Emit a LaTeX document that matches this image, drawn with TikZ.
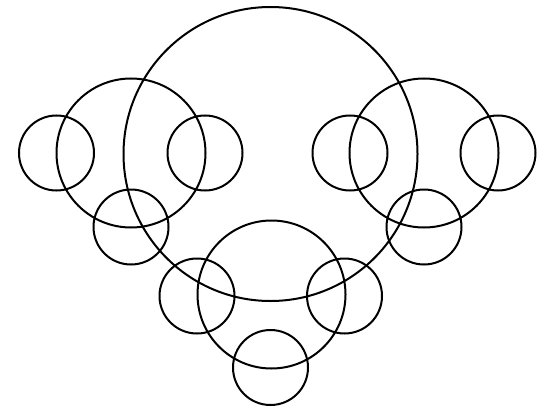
\documentclass[tikz,border=0pt]{standalone}
\begin{document}
\begin{tikzpicture}[x=1pt,y=-1pt,
  ring/.style={draw=black,line width=2pt,circle,inner sep=0pt,outer sep=0pt,minimum size=#1}]
\useasboundingbox (0,0) rectangle (545,409);
% big
\node[ring=294pt] (big) at (270.5,154) {};
% medium
\node[ring=149pt] (ml) at (131,153) {};
\node[ring=149pt] (mr) at (424,153) {};
\node[ring=148pt] (mb) at (271.5,294.5) {};
% small left group
\node[ring=75pt] (sl1) at (56.5,153) {};
\node[ring=75pt] (sl2) at (205,153) {};
\node[ring=75pt] (sl3) at (131,227) {};
% small right group
\node[ring=75pt] (sr1) at (350,153) {};
\node[ring=75pt] (sr2) at (498,153) {};
\node[ring=75pt] (sr3) at (424,227) {};
% small bottom group
\node[ring=75pt] (sb1) at (197,296) {};
\node[ring=75pt] (sb2) at (344.5,296) {};
\node[ring=75pt] (sb3) at (270.5,367.5) {};
\end{tikzpicture}
\end{document}
